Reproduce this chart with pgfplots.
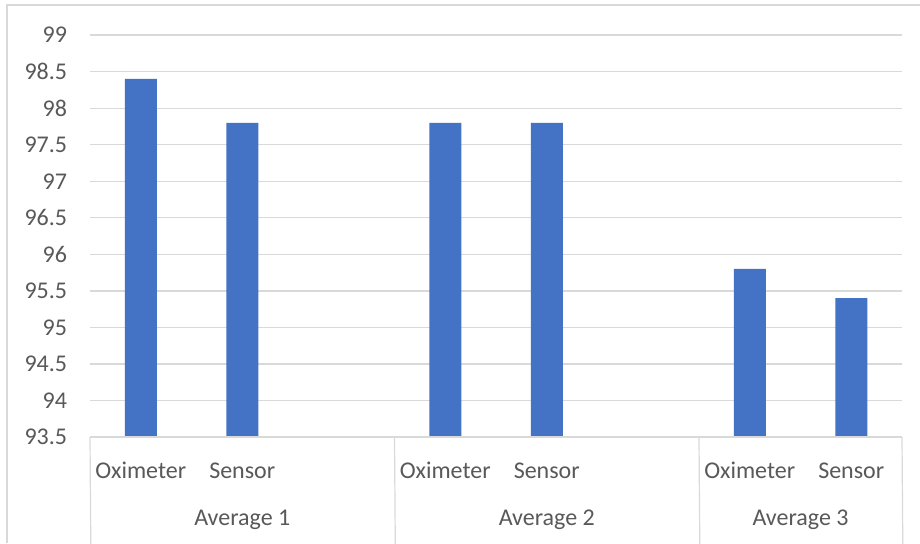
\documentclass[border=0pt]{standalone}
\usepackage{fontspec}
\setmainfont{Carlito}
\usepackage{pgfplots}
\pgfplotsset{compat=1.18}
\definecolor{barblue}{HTML}{4472C4}
\definecolor{txtgray}{HTML}{595959}
\definecolor{gridgray}{HTML}{D9D9D9}
\begin{document}
\begin{tikzpicture}
\useasboundingbox (0,0) rectangle (690pt,407.25pt);
\fill[white] (0,0) rectangle (690pt,407.25pt);
\draw[gridgray, line width=0.9pt] (5.25pt,0) -- (5.25pt,403.5pt) -- (690pt,403.5pt);
\begin{axis}[
  at={(67.5pt,79.5pt)}, anchor=south west,
  scale only axis, width=609pt, height=301.5pt,
  xmin=-0.5, xmax=7.5, ymin=93.5, ymax=99,
  ybar, bar width=24pt,
  axis line style={draw=none},
  ymajorgrids, grid style={gridgray, line width=0.9pt},
  major tick length=0pt,
  ytick={93.5,94,94.5,95,95.5,96,96.5,97,97.5,98,98.5,99},
  xtick={0,1,3,4,6,7},
  xticklabels={Oximeter,Sensor,Oximeter,Sensor,Oximeter,Sensor},
  /pgf/number format/assume math mode=true,
  /pgf/number format/fixed,
  tick label style={font=\fontsize{18}{21}\selectfont, text=txtgray},
  yticklabel style={anchor=east, inner sep=0pt, xshift=-17pt},
  xticklabel style={anchor=base, inner sep=0pt, yshift=-30.75pt},
  clip=false,
]
\addplot[fill=barblue, draw=none] coordinates {(0,98.4) (1,97.8) (3,97.8) (4,97.8) (6,95.8) (7,95.4)};
\draw[gridgray, line width=0.9pt] (axis cs:-0.5,93.5) -- (axis cs:7.5,93.5);
\draw[gridgray, line width=0.9pt] (axis cs:-0.5,93.5) -- ++(0,-71pt);
\draw[gridgray, line width=0.9pt] (axis cs:2.5,93.5) -- ++(0,-71pt);
\draw[gridgray, line width=0.9pt] (axis cs:5.5,93.5) -- ++(0,-71pt);
\draw[gridgray, line width=0.9pt] (axis cs:7.5,93.5) -- ++(0,-71pt);
\node[anchor=base, inner sep=0pt, text=txtgray, font=\fontsize{18}{21}\selectfont] at ([yshift=-66pt]axis cs:1,93.5) {Average 1};
\node[anchor=base, inner sep=0pt, text=txtgray, font=\fontsize{18}{21}\selectfont] at ([yshift=-66pt]axis cs:4,93.5) {Average 2};
\node[anchor=base, inner sep=0pt, text=txtgray, font=\fontsize{18}{21}\selectfont] at ([yshift=-66pt]axis cs:6.5,93.5) {Average 3};
\end{axis}
\end{tikzpicture}
\end{document}
